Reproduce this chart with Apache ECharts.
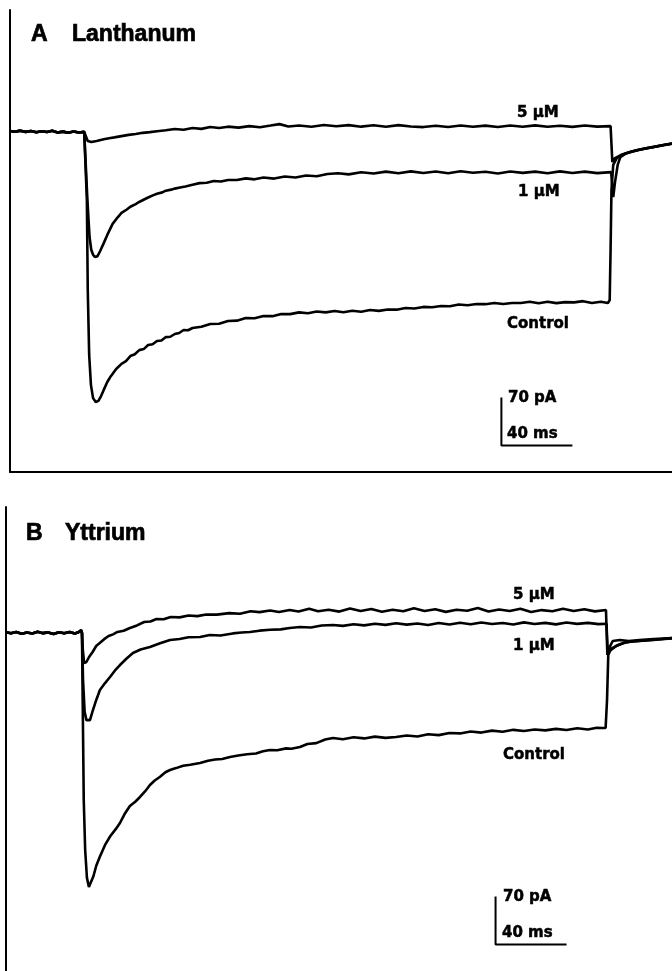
<!DOCTYPE html>
<html>
<head>
<meta charset="utf-8">
<script src="https://cdn.jsdelivr.net/npm/echarts@6/dist/echarts.min.js"></script>
<style>
  html, body { margin: 0; padding: 0; background: #fff; }
  #chart { width: 672px; height: 971px; }
</style>
</head>
<body>
<div id="chart"></div>
<script>
// time in ms (pulse starts at 0), current in pA

// panel A - Lanthanum
var preA = [[-42.8,1.5],[-40,0.3],[-37,2],[-34,0.2],[-31,1.6],[-28,-0.4],[-25,1.2],[-22,0],[-19,1.8],[-16,-0.6],[-13,0.6],[-10,-1],[-7,0.8],[-4,-0.8],[-1,0.2],[0,-1.5]];
var fiveA = [[1,-13],[3,-14.6],[6,-13],[10,-10.5],[13,-9],[16,-7.8],[20,-6],[24,-4.2],[28,-3],[32,-1.2],[36,-0.2],[40,1.2],[45,2.5],[50,4.5],[55,3.2],[60,5.8],[65,4.6],[70,7.3],[75,5.8],[80,7.8],[86,6.4],[92,8.6],[98,7],[104,9.4],[109,11.5],[114,8],[120,9.6],[127,7.6],[134,10.2],[141,8.3],[148,10],[155,7.8],[162,9.8],[169,7.6],[176,10],[183,8],[190,7.2],[197,9.2],[204,7.4],[211,9.6],[218,7.6],[225,9.3],[232,7.3],[239,9.4],[246,7.7],[253,9.7],[260,7.6],[267,9.2],[274,7.5],[281,9.5],[288,7.9],[295.5,8.6],[296.5,-43.7],[298,-38],[301,-34],[304,-31],[308,-28],[312,-25.5],[316,-23.5],[320,-21.5],[325,-19],[330.1,-16.8]];
var oneA = [[0.8,-99],[2,-153],[3,-172],[4,-179],[5,-182.3],[6.5,-181],[8,-173.5],[10,-162],[12,-150],[15,-134],[18,-124],[20,-118],[23,-113],[25,-109],[28,-105],[30,-102],[33,-98],[35,-95.5],[38,-92],[40,-90],[43,-88],[45,-85.5],[48,-84],[50,-82.5],[53,-81],[56,-79.5],[60,-77],[64,-74.5],[68,-74],[72,-71.5],[76,-72.2],[80,-70],[85,-70],[90,-67.6],[95,-69],[100,-66.4],[106,-67.9],[112,-64.8],[118,-66.4],[124,-63.4],[130,-64.4],[136,-61.2],[142,-60.1],[148,-61.8],[155,-58.6],[162,-60.6],[169,-57.8],[176,-60],[183,-57.4],[190,-59.8],[197,-57.6],[204,-60.2],[211,-57.2],[218,-59.4],[225,-58],[232,-60.4],[239,-57.5],[246,-59.6],[253,-57.7],[260,-60.1],[267,-57.4],[274,-59.7],[281,-57.8],[288,-59.9],[295.8,-58.5],[297,-94.8],[298,-73],[299.5,-48],[301,-36.5],[304,-31.5],[308,-28.4],[312,-25.8],[316,-23.8],[320,-21.7],[325,-19.3],[330.1,-17]];
var controlA = [[0.5,-99],[1,-230],[1.8,-325],[2.8,-369],[4,-388],[5.5,-393.7],[7,-392],[8.5,-385],[10,-376],[12,-364.5],[14,-356],[17,-345.5],[20,-338],[22.5,-334],[25,-326.6],[27.5,-324],[30,-318],[32.5,-316.5],[35,-310.6],[37.5,-309.5],[40,-304.7],[42.5,-304],[45,-299],[47.5,-298.5],[50,-294.5],[52.5,-293],[55,-288.7],[57.5,-289],[60,-285.8],[65,-284],[70,-280],[75,-279.5],[80,-275.6],[85,-275],[90,-271.2],[95,-271.5],[100,-268.3],[105,-268.5],[110,-265.4],[115,-265.5],[120,-263],[125,-264.2],[130,-261.7],[135,-263],[140,-261],[145,-262.8],[150,-260.5],[155,-262],[160,-259.5],[165,-260.8],[170,-258.8],[175,-259],[180,-256.6],[185,-257.4],[190,-255],[195,-255.6],[200,-253.7],[205,-254],[210,-251.5],[215,-252.6],[220,-250.8],[225,-251],[230,-249.3],[235,-250.8],[240,-249.3],[245,-249.4],[250,-247.4],[255,-249.8],[260,-247.4],[265,-249.5],[270,-248],[275,-248.4],[280,-246.6],[285,-249.2],[290,-247.4],[294,-249.3],[295,-245],[295.5,-172],[296,-84.6],[297,-48],[299,-38],[302,-33.3],[306,-29.4],[310,-26.6],[315,-24],[320,-21.8],[325,-19.4],[330.1,-16.9]];

// panel B - Yttrium
var preB = [[-42.8,1],[-40,-0.5],[-37,1.5],[-34,-1],[-31,0.8],[-28,-0.6],[-25,1.8],[-22,-0.2],[-19,0.9],[-16,-1.4],[-13,1.2],[-10,-0.3],[-7,1.6],[-4,-0.8],[-2,1],[-0.5,4],[0,0]];
var fiveB = [[0.5,-24.8],[1.2,-43.7],[2.5,-42.3],[4,-35],[6,-27.7],[8,-19],[10,-14.6],[12.5,-9],[15,-4.4],[17.5,-2],[20,1.5],[23.5,3.2],[27,7.3],[31,11],[35,16],[38.5,16.8],[42,20.4],[46,20],[50,23.3],[55,22.8],[60,25.5],[65,24.6],[70,27],[76,26.8],[83,29],[89,28],[95,31.6],[100,30.4],[106,32.8],[111,30.5],[117,33.5],[122,31.4],[128,35.2],[133,31.8],[139,34],[145,31.2],[151,35.8],[157,32],[163,34.9],[169,30.9],[175,33.8],[181,31.6],[187,36],[193,32.2],[199,34.6],[205,30.8],[211,33.9],[217,32.5],[223,36.4],[229,31.3],[235,34.2],[241,32],[247,35.5],[253,30.6],[259,33.4],[265,31.8],[271,35.3],[277,32.2],[283,34.7],[289,31.5],[295.2,33.5],[296,-32],[297,-22],[299,-11.7],[303,-10.2],[308,-11.7],[314,-10.2],[322,-8.7],[332.4,-7.3]];
var oneB = [[0.6,-68.5],[1.5,-115],[2.5,-127],[3.4,-129.8],[4.5,-127],[6,-114],[8,-98],[10.1,-83.1],[13,-73],[15.8,-64.2],[18.5,-55],[21.4,-46.7],[25,-37.5],[28.7,-29.2],[33,-24],[38.3,-20.4],[44,-15],[49.6,-10.2],[55,-8.8],[60,-6.2],[66.5,-5.8],[72,-2.9],[78,-3.6],[85,-0.6],[90,0.8],[94.6,1.5],[100,3.4],[106,4.8],[112,5.3],[117,7.4],[122.8,8.7],[129,8.1],[135,10.9],[141.4,11.7],[147,10.4],[153,12.8],[159,11.1],[165,13.6],[171,11.8],[177,14.2],[183,12.2],[189,13.9],[195,11.6],[201,14.5],[207,12.3],[213,14.9],[219,12.7],[225,15.3],[231,13],[237,14.6],[243,12.4],[249,15.5],[255,13.1],[261,14.8],[267,12.6],[273,15.2],[279,13.3],[285,14.7],[291,12.9],[295.5,13.5],[296.2,-27.7],[298,-24.8],[301,-19],[305,-14.6],[310,-12.4],[320,-10.2],[332.4,-8]];
var controlB = [[0.4,-97.7],[1,-243.5],[1.8,-316.4],[2.8,-357],[3.9,-370.3],[5,-367.4],[6.5,-354.3],[8,-339.7],[10,-326.6],[13,-309],[16,-296],[19,-286],[21.4,-277],[24,-264],[27,-252.2],[30,-246],[32.7,-239.1],[35.5,-231],[38.3,-221.6],[41,-215],[44,-209.5],[47,-203],[49.6,-199.7],[53,-197],[57,-193.5],[61,-192],[66.5,-189.5],[71,-186.2],[75,-184.4],[79,-183.6],[83.4,-180.8],[88,-178.5],[93,-176.8],[98,-175.6],[102,-172.4],[105.9,-170.6],[110,-170.9],[115,-168.2],[118,-168.8],[122.8,-166.2],[127,-161.8],[132,-160.6],[137,-155.2],[141.4,-153.1],[147,-154.8],[153,-152],[159,-153.7],[165,-151.1],[171,-152.9],[176.9,-151.6],[183,-149.4],[189,-150.8],[195,-147.6],[201,-148.9],[207,-145.8],[213,-146.4],[219,-143.5],[225,-145.2],[231,-142.3],[237,-143.9],[243,-141.2],[249,-142.8],[255,-140.6],[261,-142],[267,-139.8],[273,-141.5],[279,-138.9],[285,-140.7],[290,-138.2],[293.5,-138.5],[295,-138.5],[295.8,-97.7],[296.5,-32],[298,-23.3],[302,-17.5],[307,-13.1],[314,-11.7],[322,-10.2],[332.4,-7.3]];

// scale bars: 70 pA / 40 ms, corner (t, pA)
var barTime = 40;
var barCurrent = 70;
var barCornerA = [234, -457];
var barCornerB = [233, -454];

function scaleBar(c) {
  return [[c[0], c[1] + barCurrent], [c[0], c[1]], [c[0] + barTime, c[1]]];
}

var ink = '#000';
var traceStyle = { color: ink, width: 2.6 };

function trace(pre, body, idx) {
  return {
    type: 'line',
    xAxisIndex: idx,
    yAxisIndex: idx,
    data: pre.concat(body),
    showSymbol: false,
    lineStyle: traceStyle,
    silent: true
  };
}

function label(text, x, y, big) {
  return {
    type: 'text',
    x: x,
    y: y,
    style: {
      text: text,
      fill: ink,
      stroke: ink,
      lineWidth: big ? 0.7 : 0.5,
      font: big ? 'bold 23px "Liberation Sans", Arial, sans-serif' : 'bold 15px "DejaVu Sans", sans-serif',
      verticalAlign: 'middle'
    }
  };
}

var axisLineOn = { show: true, onZero: false, lineStyle: { color: ink, width: 2 } };
var axisLineOff = { show: false };

function valueAxis(idx, min, max, line) {
  return {
    type: 'value',
    gridIndex: idx,
    min: min,
    max: max,
    axisLine: line,
    axisTick: { show: false },
    axisLabel: { show: false },
    splitLine: { show: false }
  };
}

var chart = echarts.init(document.getElementById('chart'), null, { renderer: 'canvas' });

chart.setOption({
  animation: false,
  backgroundColor: '#fff',
  grid: [
    { left: 10, top: 10, width: 662, height: 462 },
    { left: 6, top: 507, width: 666, height: 464 }
  ],
  xAxis: [
    valueAxis(0, -42.8, 330.1, axisLineOn),
    valueAxis(1, -42.8, 332.4, axisLineOff)
  ],
  yAxis: [
    valueAxis(0, -495.7, 177.9, axisLineOn),
    valueAxis(1, -492.8, 183.7, axisLineOn)
  ],
  series: [
    trace(preA, fiveA, 0),
    trace(preA, oneA, 0),
    trace(preA, controlA, 0),
    trace(preB, fiveB, 1),
    trace(preB, oneB, 1),
    trace(preB, controlB, 1),
    { type: 'line', xAxisIndex: 0, yAxisIndex: 0, data: scaleBar(barCornerA), showSymbol: false, lineStyle: { color: ink, width: 2 }, silent: true },
    { type: 'line', xAxisIndex: 1, yAxisIndex: 1, data: scaleBar(barCornerB), showSymbol: false, lineStyle: { color: ink, width: 2 }, silent: true }
  ],
  graphic: [
    label('A', 31, 35, true),
    label('Lanthanum', 72, 35, true),
    label('5 µM', 517, 113),
    label('1 µM', 518, 192),
    label('Control', 507, 324),
    label('70 pA', 508, 398),
    label('40 ms', 507, 434),
    label('B', 26, 534, true),
    label('Yttrium', 65, 534, true),
    label('5 µM', 513, 595),
    label('1 µM', 513, 646),
    label('Control', 503, 755),
    label('70 pA', 503, 897),
    label('40 ms', 502, 933)
  ]
});
</script>
</body>
</html>
